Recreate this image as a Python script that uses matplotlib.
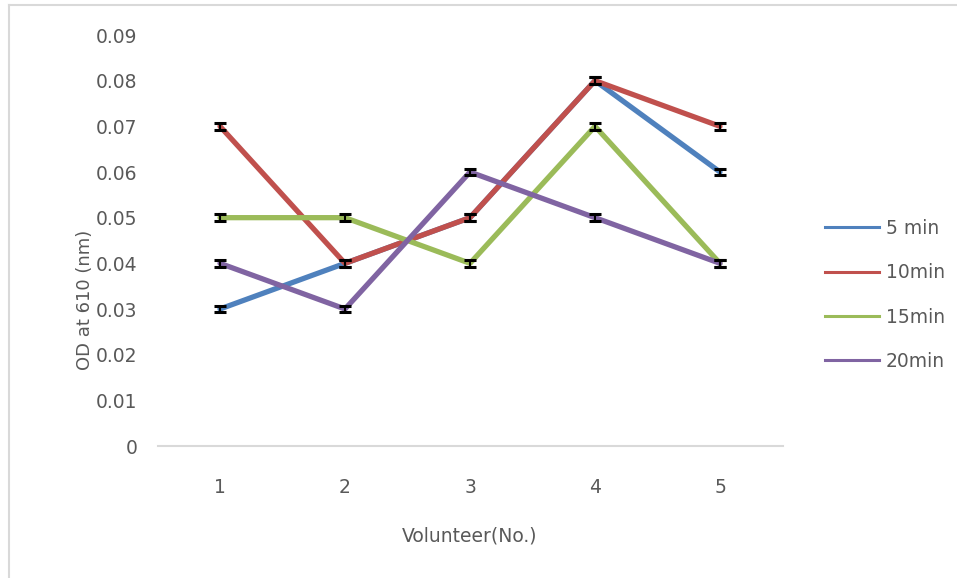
import numpy as np
import matplotlib
matplotlib.use("Agg")
import matplotlib.pyplot as plt
from matplotlib.lines import Line2D

# Data
volunteers = [1, 2, 3, 4, 5]
series_names = ["5 min", "10min", "15min", "20min"]
od_5min = [0.03, 0.04, 0.05, 0.08, 0.06]
od_10min = [0.07, 0.04, 0.05, 0.08, 0.07]
od_15min = [0.05, 0.05, 0.04, 0.07, 0.04]
od_20min = [0.04, 0.03, 0.06, 0.05, 0.04]
err = [0.0007, 0.0007, 0.0007, 0.0007, 0.0007]
yticks = [0, 0.01, 0.02, 0.03, 0.04, 0.05, 0.06, 0.07, 0.08, 0.09]
ytick_labels = ["0", "0.01", "0.02", "0.03", "0.04", "0.05", "0.06", "0.07", "0.08", "0.09"]

colors = ["#4F81BD", "#C0504D", "#9BBB59", "#8064A2"]
text_color = "#595959"
grid_color = "#D9D9D9"

fig = plt.figure(figsize=(9.57, 5.78), dpi=100)
ax = fig.add_axes([157.5 / 957, 1 - 446 / 578, 625 / 957, 411 / 578])

all_series = [od_5min, od_10min, od_15min, od_20min]
for vals, c in zip(all_series, colors):
    ax.plot(volunteers, vals, color=c, lw=3.8, solid_capstyle="round", zorder=2)
for vals in all_series:
    ax.errorbar(volunteers, vals, yerr=err, fmt="none", ecolor="black",
                elinewidth=1.5, capsize=4, capthick=2.2, zorder=3)

ax.set_xlim(0.5, 5.5)
ax.set_ylim(0, 0.09)
ax.set_yticks(yticks)
ax.set_yticklabels(ytick_labels)
ax.set_xticks(volunteers)
ax.tick_params(axis="both", length=0, labelsize=13.5, labelcolor=text_color)
ax.tick_params(axis="y", pad=14.5)
ax.tick_params(axis="x", pad=23)
for side in ["top", "right", "left"]:
    ax.spines[side].set_visible(False)
ax.spines["bottom"].set_color(grid_color)
ax.spines["bottom"].set_linewidth(1.5)

ax.set_xlabel("Volunteer(No.)", fontsize=13.5, color=text_color, labelpad=21)
fig.text(85 / 957, 1 - 300 / 578, "OD at 610 (nm)", rotation=90, fontsize=13,
         color=text_color, ha="center", va="center")

handles = [Line2D([0], [0], color=c, lw=2.2) for c in colors]
leg = fig.legend(handles, series_names, loc="center left",
                 bbox_to_anchor=(808 / 957, 1 - 295 / 578), frameon=False,
                 fontsize=13.5, handlelength=2.9, handletextpad=0.35,
                 labelspacing=1.35, labelcolor=text_color)

# outer chart frame (top and left edges visible in the crop)
fig.add_artist(Line2D([9 / 957, 1], [1 - 5 / 578, 1 - 5 / 578], color=grid_color, lw=1.5))
fig.add_artist(Line2D([9 / 957, 9 / 957], [0, 1 - 5 / 578], color=grid_color, lw=1.5))

fig.savefig("out.png", dpi=100)
